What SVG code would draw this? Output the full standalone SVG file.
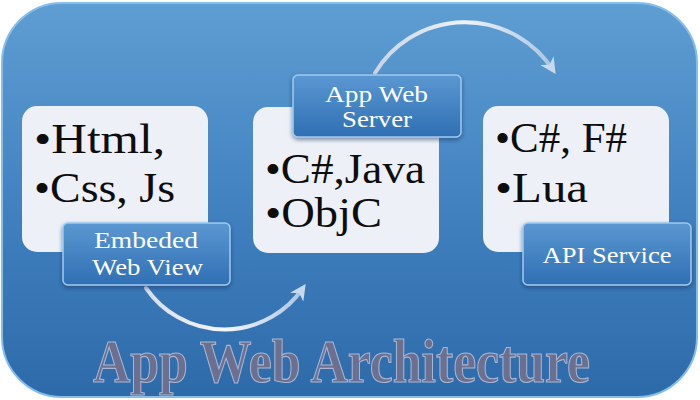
<svg xmlns="http://www.w3.org/2000/svg" width="700" height="400" viewBox="0 0 700 400">
  <defs>
    <linearGradient id="bg" x1="0" y1="0" x2="0" y2="1">
      <stop offset="0" stop-color="#5f9ed2"/>
      <stop offset="0.5" stop-color="#4282c1"/>
      <stop offset="1" stop-color="#2d6aa9"/>
    </linearGradient>
    <linearGradient id="lab" x1="0" y1="0" x2="0" y2="1">
      <stop offset="0" stop-color="#5b98d2"/>
      <stop offset="1" stop-color="#2f6fb3"/>
    </linearGradient>
    <linearGradient id="arr1" gradientUnits="userSpaceOnUse" x1="146" y1="287" x2="305" y2="287">
      <stop offset="0" stop-color="#d6dde8"/>
      <stop offset="0.5" stop-color="#f4f7fb"/>
      <stop offset="1" stop-color="#a9c4e2"/>
    </linearGradient>
    <linearGradient id="arr2" gradientUnits="userSpaceOnUse" x1="375" y1="73" x2="555" y2="73">
      <stop offset="0" stop-color="#c8d4e4"/>
      <stop offset="0.5" stop-color="#eef3f9"/>
      <stop offset="1" stop-color="#a9c4e2"/>
    </linearGradient>
    <filter id="sh" x="-10%" y="-10%" width="120%" height="130%">
      <feDropShadow dx="0" dy="2" stdDeviation="2" flood-color="#0b2c55" flood-opacity="0.55"/>
    </filter>
    <marker id="ah" viewBox="0 0 10 10" refX="7" refY="5" markerWidth="4" markerHeight="4" orient="auto" markerUnits="strokeWidth">
      <path d="M0,0 L10,5 L0,10 L3,5 z" fill="#c9d9ec"/>
    </marker>
    <style>
      .box { fill: #edf1f7; }
      .lab { fill: url(#lab); stroke: #9ec9ef; stroke-width: 1.5; filter: url(#sh); }
      .body { font-family: "Liberation Serif", "Times New Roman", serif; font-size: 43px; fill: #0d0d0d; }
      .lt { font-family: "Liberation Serif", "Times New Roman", serif; font-size: 23px; fill: #ffffff; text-anchor: middle; }
      .conn { fill: none; stroke-width: 4; stroke-linecap: round; marker-end: url(#ah); }
      .title { font-family: "Liberation Serif", "Times New Roman", serif; font-size: 62px; font-weight: bold; fill: #6d6f8e; stroke: #a9b6d3; stroke-width: 1.2; }
    </style>
  </defs>

  <rect id="background" x="2" y="3" width="695" height="394" rx="60" ry="60" fill="url(#bg)" stroke="#86bdea" stroke-width="2"/>

  <g id="connectors">
    <path class="conn" stroke="url(#arr1)" d="M146,288 A95,95 0 0 0 303,288"/>
    <path class="conn" stroke="url(#arr2)" d="M375,73 A105,105 0 0 1 553,70"/>
  </g>

  <g id="node-client">
    <rect class="box" x="22" y="106" width="186" height="146" rx="15"/>
    <text class="body" x="34" y="153" textLength="131" lengthAdjust="spacingAndGlyphs">•Html,</text>
    <text class="body" x="34" y="202" textLength="141" lengthAdjust="spacingAndGlyphs">•Css, Js</text>
  </g>

  <g id="node-server">
    <rect class="box" x="253" y="107" width="186" height="146" rx="15"/>
    <text class="body" x="265" y="183" textLength="160" lengthAdjust="spacingAndGlyphs">•C#,Java</text>
    <text class="body" x="265" y="227" textLength="117" lengthAdjust="spacingAndGlyphs">•ObjC</text>
  </g>

  <g id="node-api">
    <rect class="box" x="483" y="106" width="186" height="146" rx="15"/>
    <text class="body" x="495" y="152" textLength="132" lengthAdjust="spacingAndGlyphs">•C#, F#</text>
    <text class="body" x="495" y="202" textLength="93" lengthAdjust="spacingAndGlyphs">•Lua</text>
  </g>

  <g id="label-embeded">
    <rect class="lab" x="63" y="223" width="167" height="62" rx="5"/>
    <text class="lt" x="146" y="248" textLength="104" lengthAdjust="spacingAndGlyphs">Embeded</text>
    <text class="lt" x="147.5" y="275" textLength="111" lengthAdjust="spacingAndGlyphs">Web View</text>
  </g>

  <g id="label-appserver">
    <rect class="lab" x="293" y="75" width="168" height="62" rx="5"/>
    <text class="lt" x="376.5" y="102" textLength="103" lengthAdjust="spacingAndGlyphs">App Web</text>
    <text class="lt" x="377" y="127" textLength="70" lengthAdjust="spacingAndGlyphs">Server</text>
  </g>

  <g id="label-api">
    <rect class="lab" x="523" y="223" width="168" height="62" rx="5"/>
    <text class="lt" x="607" y="263" textLength="129" lengthAdjust="spacingAndGlyphs">API Service</text>
  </g>

  <text class="title" x="93" y="382" textLength="497" lengthAdjust="spacingAndGlyphs">App Web Architecture</text>
</svg>
